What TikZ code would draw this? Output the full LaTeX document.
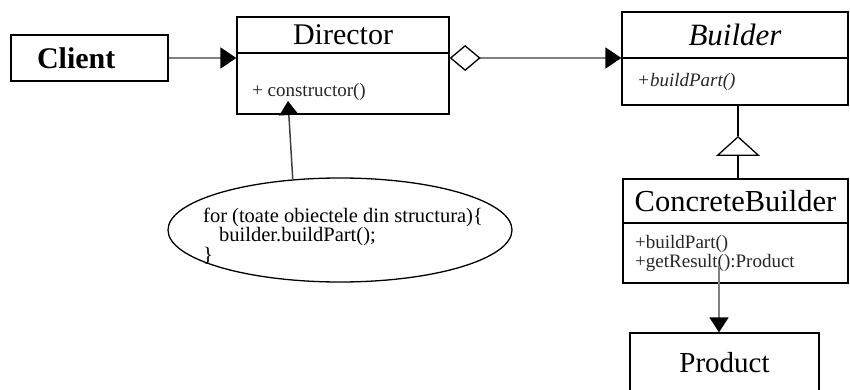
\documentclass[tikz,border=0pt]{standalone}
\usepackage{fontspec}
\setmainfont{Liberation Serif}
\usetikzlibrary{arrows.meta,shapes.geometric}
\newcommand{\fs}[1]{\fontsize{#1}{#1}\selectfont}

\begin{document}
\begin{tikzpicture}[x=1pt,y=-1pt,
        box/.style={draw,line width=1.3pt,inner sep=0pt},
        member/.style={anchor=west,inner sep=0pt,text=black!85,font=\fs{19}},
        link/.style={draw=gray,line width=1.8pt},
        headtip/.style={-{Triangle[length=16pt,width=21pt,color=black]}}]
    \useasboundingbox (0,0) rectangle (850,390);
    % classes
    \node[box,minimum width=157pt,minimum height=46pt,text width=105pt,inner xsep=26pt,align=left,font=\fs{30}\bfseries] (client) at (89.5,58) {Client};
    \node[box,minimum width=212pt,minimum height=36pt,font=\fs{30}] (dirHead) at (343,35) {Director};
    \node[box,minimum width=212pt,minimum height=61pt] (dirBody) at (343,83.5) {};
    \node[member] (ctorOp) at (252,92) {+ constructor()};
    \node[box,minimum width=226pt,minimum height=46pt,font=\fs{31}\itshape] (bldHead) at (735,35) {Builder};
    \node[box,minimum width=226pt,minimum height=47pt] (bldBody) at (735,81.5) {};
    \node[member,font=\fs{19}\itshape] (bldOp) at (637,82) {+buildPart()};
    \node[box,minimum width=225pt,minimum height=44pt,font=\fs{30.5}] (cbHead) at (735.5,201) {ConcreteBuilder};
    \node[box,minimum width=225pt,minimum height=60pt] (cbBody) at (735.5,253) {};
    \node[member,align=left,font=\fontsize{19}{17}\selectfont] (cbOps) at (635,253.5) {+buildPart()\\+getResult():Product};
    \node[box,minimum width=189pt,minimum height=60pt,font=\fs{29}] (prod) at (724.5,363) {Product};
    % note
    \node[draw,ellipse,line width=1.3pt,minimum width=344pt,minimum height=104pt] (note) at (340,230) {};
    \node[align=left,inner sep=0pt,font=\fontsize{20.5}{17.5}\selectfont] (noteText) at (343,236)
        {for (toate obiectele din structura)\{\\\hspace*{16pt}builder.buildPart();\\\}};
    % connectors
    \coordinate (ctor) at (288,101);
    \coordinate (apex) at (738,136);
    \coordinate (res) at (719,266);
    \draw[link,headtip] (client.east) -- (client.east -| dirBody.west);
    \draw[link,{Diamond[open,length=31pt,width=26pt,color=black,line width=1.3pt]}-{Triangle[length=16pt,width=21pt,color=black]}] (client.east -| dirHead.east) -- (client.east -| bldHead.west);
    \draw[line width=1.3pt,-{Triangle[open,length=20pt,width=44pt]}] (apex |- cbHead.north) -- (apex);
    \draw[line width=1.3pt] (apex) -- (apex |- bldBody.south);
    \draw[link,-{Triangle[length=15pt,width=19pt,color=black]}] (res) -- (res |- prod.north);
    \draw[link,draw=black!75,line width=1.5pt,-{Triangle[length=14pt,width=19pt,color=black]}] (note.133) -- (ctor);
\end{tikzpicture}
\end{document}
